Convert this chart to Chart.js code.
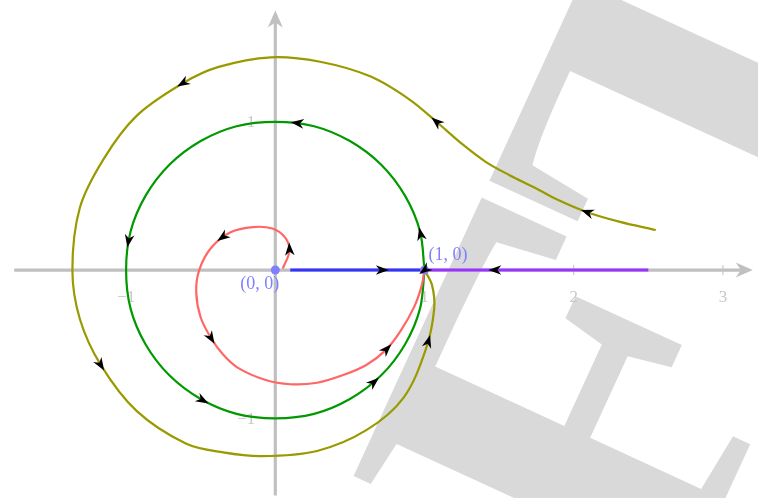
<!DOCTYPE html>
<html>
<head>
<meta charset="utf-8">
<script src="https://cdn.jsdelivr.net/npm/chart.js@4.4.1/dist/chart.umd.min.js"></script>
<style>
  html, body { margin: 0; padding: 0; background: #fff; }
  #wrap { width: 758px; height: 498px; }
</style>
</head>
<body>
<div id="wrap"><canvas id="phase"></canvas></div>
<script>
// trajectories, (x, y) in plot units
const redOrbit = [[0.05,0.01],[0.095,0.13],[0.065,0.22],[-0.02,0.28],[-0.15,0.29],[-0.3,0.255],
    [-0.43,0.15],[-0.51,0.0],[-0.53,-0.15],[-0.5,-0.32],[-0.43,-0.46],[-0.35,-0.57],[-0.25,-0.66],
    [-0.07,-0.74],[0.1,-0.77],[0.28,-0.76],[0.45,-0.71],[0.61,-0.64],[0.74,-0.54],[0.84,-0.41],
    [0.93,-0.25],[0.98,-0.11],[1.0,0]];
const greenOrbit = [[1,0],[0.97,0.26],[0.87,0.5],[0.71,0.71],[0.5,0.87],[0.26,0.97],[0,1],
    [-0.26,0.97],[-0.5,0.87],[-0.71,0.71],[-0.87,0.5],[-0.97,0.26],[-1,0],[-0.97,-0.26],
    [-0.87,-0.5],[-0.71,-0.71],[-0.5,-0.87],[-0.26,-0.97],[0,-1],[0.26,-0.97],[0.5,-0.87],
    [0.71,-0.71],[0.87,-0.5],[0.97,-0.26],[1,0]];
const oliveOrbit = [[2.55,0.27],[2.31,0.325],[2.09,0.39],[1.9,0.47],[1.74,0.555],[1.57,0.64],
    [1.41,0.73],[1.24,0.86],[1.08,1.0],[0.9,1.15],[0.64,1.305],[0.3,1.405],[-0.03,1.435],
    [-0.38,1.37],[-0.62,1.26],[-0.93,1.04],[-1.15,0.75],[-1.31,0.42],[-1.36,0.0],[-1.31,-0.33],
    [-1.17,-0.64],[-0.93,-0.95],[-0.6,-1.17],[-0.35,-1.23],[-0.09,-1.255],[0.28,-1.22],
    [0.61,-1.08],[0.86,-0.86],[1.01,-0.53],[1.065,-0.26],[1.05,-0.1],[1.0,0]];
const blueRay = [[0.1,0],[1,0]];
const purpleRay = [[2.5,0],[1,0]];
const fixedPoints = [[0,0],[1,0]];
const fixedLabels = ["(0, 0)", "(1, 0)"];

const xTicks = [-1, 1, 2, 3];
const xTickLabels = ["\u22121", "1", "2", "3"];
const yTicks = [-1, 1];
const yTickLabels = ["\u22121", "1"];
const xAxisSpan = [-1.75, 3.2];
const yAxisSpan = [-1.52, 1.75];

const toXY = arr => arr.map(p => ({ x: p[0], y: p[1] }));
const serif = '"Liberation Serif", "DejaVu Serif", serif';

function stealth(ctx, x, y, ang, color, len, half) {
    ctx.save();
    ctx.translate(x, y);
    ctx.rotate(ang);
    ctx.beginPath();
    ctx.moveTo(len * 0.5, 0);
    ctx.lineTo(-len * 0.5, half);
    ctx.lineTo(-len * 0.2, 0);
    ctx.lineTo(-len * 0.5, -half);
    ctx.closePath();
    ctx.fillStyle = color;
    ctx.fill();
    ctx.restore();
}

// sample the drawn bezier path of a line dataset
function samplePath(pts) {
    const out = [];
    for (let i = 0; i < pts.length - 1; i++) {
        const a = pts[i], b = pts[i + 1];
        const c1x = a.cp2x ?? a.x, c1y = a.cp2y ?? a.y;
        const c2x = b.cp1x ?? b.x, c2y = b.cp1y ?? b.y;
        for (let k = 0; k < 16; k++) {
            const t = k / 16, u = 1 - t;
            out.push({
                x: u*u*u*a.x + 3*u*u*t*c1x + 3*u*t*t*c2x + t*t*t*b.x,
                y: u*u*u*a.y + 3*u*u*t*c1y + 3*u*t*t*c2y + t*t*t*b.y
            });
        }
    }
    const last = pts[pts.length - 1];
    out.push({ x: last.x, y: last.y });
    return out;
}

// big rotated "DRAFT" stamp, only the F and T fall inside the frame
const watermark = {
    id: "watermark",
    beforeDraw(chart) {
        const ctx = chart.ctx;
        ctx.save();
        ctx.fillStyle = "#d9d9d9";
        ctx.font = "bold 530px " + serif;
        ctx.translate(chart.chartArea.left + 348, chart.chartArea.top + 472);
        ctx.rotate(-65.3 * Math.PI / 180);
        const f = ctx.measureText("F");
        const t = ctx.measureText("T");
        const asc = f.actualBoundingBoxAscent;

        ctx.save();
        ctx.scale(1.06, 1);
        const pre = ctx.measureText("DRA").width;
        ctx.fillText("DRAF", f.actualBoundingBoxLeft - pre, asc);
        ctx.restore();

        ctx.save();
        ctx.translate(326, 0);
        ctx.scale(1.05, 1);
        ctx.fillText("T", t.actualBoundingBoxLeft, asc);
        ctx.restore();
        ctx.restore();
    }
};

const axes = {
    id: "axes",
    beforeDatasetsDraw(chart) {
        const ctx = chart.ctx, xs = chart.scales.x, ys = chart.scales.y;
        const x0 = xs.getPixelForValue(0), y0 = ys.getPixelForValue(0);
        const gray = "#c0c0c0";
        ctx.save();
        ctx.strokeStyle = gray;
        ctx.lineWidth = 3.2;
        const xa = xs.getPixelForValue(xAxisSpan[0]), xb = xs.getPixelForValue(xAxisSpan[1]);
        const ya = ys.getPixelForValue(yAxisSpan[0]), yb = ys.getPixelForValue(yAxisSpan[1]);
        ctx.beginPath();
        ctx.moveTo(xa, y0); ctx.lineTo(xb - 10, y0);
        ctx.moveTo(x0, ya); ctx.lineTo(x0, yb + 10);
        ctx.stroke();
        stealth(ctx, xb - 8.5, y0, 0, gray, 17, 7.5);
        stealth(ctx, x0, yb + 8.5, -Math.PI / 2, gray, 17, 7.5);

        ctx.lineWidth = 1;
        ctx.beginPath();
        xTicks.forEach(v => {
            const px = xs.getPixelForValue(v);
            ctx.moveTo(px, y0 - 5); ctx.lineTo(px, y0 + 5);
        });
        yTicks.forEach(v => {
            const py = ys.getPixelForValue(v);
            ctx.moveTo(x0 - 5, py); ctx.lineTo(x0 + 5, py);
        });
        ctx.stroke();

        ctx.fillStyle = "#c8c8c8";
        ctx.font = "17px " + serif;
        ctx.textAlign = "center";
        ctx.textBaseline = "alphabetic";
        xTicks.forEach((v, i) => {
            ctx.fillText(xTickLabels[i], xs.getPixelForValue(v), y0 + 32);
        });
        ctx.textAlign = "right";
        ctx.textBaseline = "middle";
        yTicks.forEach((v, i) => {
            ctx.fillText(yTickLabels[i], x0 - 20, ys.getPixelForValue(v) + 1);
        });
        ctx.restore();
    }
};

const arrows = {
    id: "arrows",
    afterDatasetsDraw(chart) {
        const ctx = chart.ctx, xs = chart.scales.x, ys = chart.scales.y;
        chart.data.datasets.forEach((ds, i) => {
            if (!ds.arrows) return;
            const path = samplePath(chart.getDatasetMeta(i).data);
            ds.arrows.forEach(m => {
                const px = xs.getPixelForValue(m[0]), py = ys.getPixelForValue(m[1]);
                let best = 0, bestD = Infinity;
                path.forEach((p, k) => {
                    const d = (p.x - px) ** 2 + (p.y - py) ** 2;
                    if (d < bestD) { bestD = d; best = k; }
                });
                const a = path[Math.max(best - 1, 0)], b = path[Math.min(best + 1, path.length - 1)];
                const ang = m.length > 2 ? m[2] * Math.PI / 180 : Math.atan2(b.y - a.y, b.x - a.x);
                stealth(ctx, path[best].x, path[best].y, ang, "#000", 13, 4.8);
            });
        });

        // fixed point labels
        ctx.save();
        ctx.fillStyle = "#8080ff";
        ctx.font = "18px " + serif;
        const p0x = xs.getPixelForValue(fixedPoints[0][0]), p0y = ys.getPixelForValue(fixedPoints[0][1]);
        ctx.textAlign = "right";
        ctx.textBaseline = "top";
        ctx.fillText(fixedLabels[0], p0x + 4, p0y + 5);
        const p1x = xs.getPixelForValue(fixedPoints[1][0]), p1y = ys.getPixelForValue(fixedPoints[1][1]);
        ctx.textAlign = "left";
        ctx.textBaseline = "bottom";
        ctx.fillText(fixedLabels[1], p1x + 4, p1y - 6);
        ctx.restore();
    }
};

const curve = (data, color, width, marks) => ({
    data: toXY(data),
    borderColor: color,
    borderWidth: width,
    pointRadius: 0,
    tension: 0.34,
    fill: false,
    arrows: marks
});

new Chart(document.getElementById("phase"), {
    type: "line",
    data: {
        datasets: [
            {
                data: toXY(fixedPoints),
                pointRadius: 4.5,
                pointBackgroundColor: "#8080ff",
                pointBorderWidth: 0,
                showLine: false
            },
            curve(purpleRay, "#9933ff", 3, [[1.46, 0], [1.045, 0.03, 144]]),
            curve(blueRay, "#3333ff", 3, [[0.7, 0]]),
            curve(redOrbit, "#ff6666", 2.2, [[0.095, 0.14], [-0.35, 0.225], [-0.44, -0.47], [0.74, -0.52]]),
            curve(greenOrbit, "#009900", 2.2, [[0.975, 0.24], [0.15, 0.99], [-0.98, 0.2], [-0.48, -0.88], [0.66, -0.76]]),
            curve(oliveOrbit, "#999900", 2.2, [[2.09, 0.39], [1.08, 1.0], [-0.62, 1.26], [-1.17, -0.64], [1.02, -0.47]])
        ]
    },
    options: {
        responsive: true,
        maintainAspectRatio: false,
        animation: false,
        layout: { padding: 0 },
        elements: { line: { tension: 0.34, capBezierPoints: false } },
        plugins: {
            legend: { display: false },
            tooltip: { enabled: false }
        },
        scales: {
            x: { type: "linear", min: -1.815, max: 3.205, display: false },
            y: { type: "linear", min: -1.507, max: 1.791, display: false }
        }
    },
    plugins: [watermark, axes, arrows]
});
</script>
</body>
</html>
